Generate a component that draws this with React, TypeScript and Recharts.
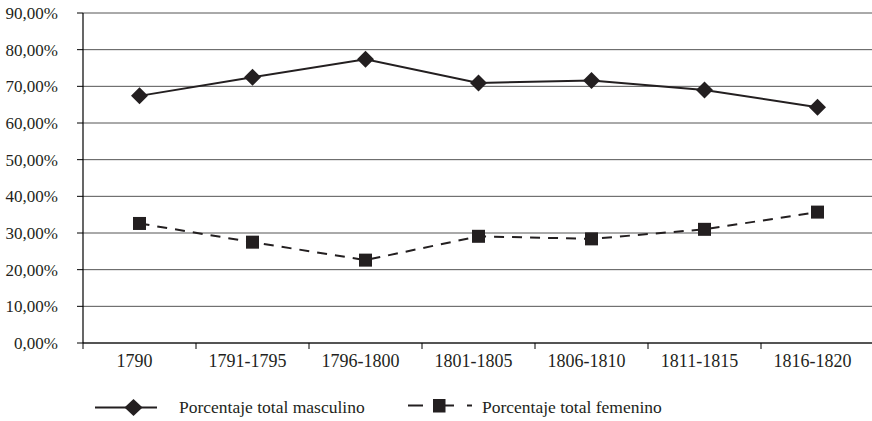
import { LineChart, Line, XAxis, YAxis, CartesianGrid, Legend } from "recharts";

const PERIODOS = ["1790", "1791-1795", "1796-1800", "1801-1805", "1806-1810", "1811-1815", "1816-1820"];
const MASCULINO = [67.4, 72.5, 77.4, 70.9, 71.6, 69.0, 64.3];
const FEMENINO = [32.6, 27.5, 22.6, 29.1, 28.4, 31.0, 35.7];
const Y_TICKS = [0, 10, 20, 30, 40, 50, 60, 70, 80, 90];

const data = PERIODOS.map((periodo, i) => ({
  periodo,
  masculino: MASCULINO[i],
  femenino: FEMENINO[i],
}));

const W = 872;
const H = 421;
const LEFT = 83;
const STEP = 113;
// the plot runs a little past the right edge, as in the source image
const RIGHT = W - LEFT - STEP * PERIODOS.length;
const FONT = "Liberation Serif, Times New Roman, DejaVu Serif, serif";
const INK = "#231f20";

const fmt = (v: number) => v.toFixed(2).replace(".", ",") + "%";

function XTick(props: any) {
  const { x, y, payload, index } = props;
  const left = x - STEP / 2;
  return (
    <g>
      <line x1={left} x2={left} y1={y} y2={y + 6} stroke="#000" strokeWidth={1} />
      {index === PERIODOS.length - 1 && (
        <line x1={x + STEP / 2} x2={x + STEP / 2} y1={y} y2={y + 6} stroke="#000" strokeWidth={1} />
      )}
      <text x={x - 5} y={y + 24} textAnchor="middle" style={{ fontFamily: FONT }} fontSize={18} fill={INK}>
        {payload.value}
      </text>
    </g>
  );
}

function Diamond(props: any) {
  const { cx, cy, index } = props;
  const r = 8.5;
  return (
    <polygon
      key={`dm-${index}`}
      points={`${cx},${cy - r} ${cx + r},${cy} ${cx},${cy + r} ${cx - r},${cy}`}
      fill={INK}
    />
  );
}

function Square(props: any) {
  const { cx, cy, index } = props;
  const s = 13;
  return <rect key={`sq-${index}`} x={cx - s / 2} y={cy - s / 2} width={s} height={s} fill={INK} />;
}

function LegendBox() {
  const a = 10.5;
  const b = 8.5;
  return (
    <svg width={W} height={20} style={{ display: "block" }}>
      <line x1={95} x2={157} y1={a} y2={a} stroke={INK} strokeWidth={2} />
      <polygon points={`133.5,${a - 8.5} 142.5,${a} 133.5,${a + 8.5} 124.5,${a}`} fill={INK} />
      <text x={179} y={a + 5.5} style={{ fontFamily: FONT }} fontSize={17.5} fill={INK}>
        Porcentaje total masculino
      </text>
      <line x1={408} x2={423} y1={b} y2={b} stroke={INK} strokeWidth={2} />
      <line x1={445} x2={454} y1={b} y2={b} stroke={INK} strokeWidth={2} />
      <line x1={467} x2={472} y1={b} y2={b} stroke={INK} strokeWidth={2} />
      <rect x={433} y={b - 6.5} width={12.5} height={13.5} fill={INK} />
      <text x={482} y={a + 5.5} style={{ fontFamily: FONT }} fontSize={17.5} fill={INK}>
        Porcentaje total femenino
      </text>
    </svg>
  );
}

export default function App() {
  return (
    <div
      style={{
        position: "absolute",
        left: 0,
        top: 0,
        width: W,
        height: H,
        overflow: "hidden",
        background: "#fff",
        fontFamily: FONT,
      }}
    >
      <LineChart width={W} height={H} data={data} margin={{ top: 13, right: RIGHT, bottom: 4, left: 0 }}>
        <CartesianGrid vertical={false} stroke="#555" strokeWidth={1} />
        <XAxis
          dataKey="periodo"
          interval={0}
          height={54}
          padding={{ left: STEP / 2, right: STEP / 2 }}
          tickLine={false}
          tickSize={0}
          tickMargin={0}
          axisLine={{ stroke: "#000", strokeWidth: 1.2 }}
          tick={<XTick />}
        />
        <YAxis
          width={LEFT}
          domain={[0, 90]}
          ticks={Y_TICKS}
          tickFormatter={fmt}
          tickSize={6}
          tickMargin={19}
          axisLine={{ stroke: "#000", strokeWidth: 1.2 }}
          tickLine={{ stroke: "#000" }}
          tick={{ fontSize: 17, fill: INK, style: { fontFamily: FONT } }}
        />
        <Legend verticalAlign="bottom" wrapperStyle={{ left: 0 }} content={() => <LegendBox />} />
        <Line
          type="linear"
          dataKey="masculino"
          name="Porcentaje total masculino"
          stroke={INK}
          strokeWidth={2}
          dot={(p: any) => <Diamond {...p} />}
          activeDot={false}
          isAnimationActive={false}
        />
        <Line
          type="linear"
          dataKey="femenino"
          name="Porcentaje total femenino"
          stroke={INK}
          strokeWidth={2}
          strokeDasharray="10 8"
          dot={(p: any) => <Square {...p} />}
          activeDot={false}
          isAnimationActive={false}
        />
      </LineChart>
    </div>
  );
}
